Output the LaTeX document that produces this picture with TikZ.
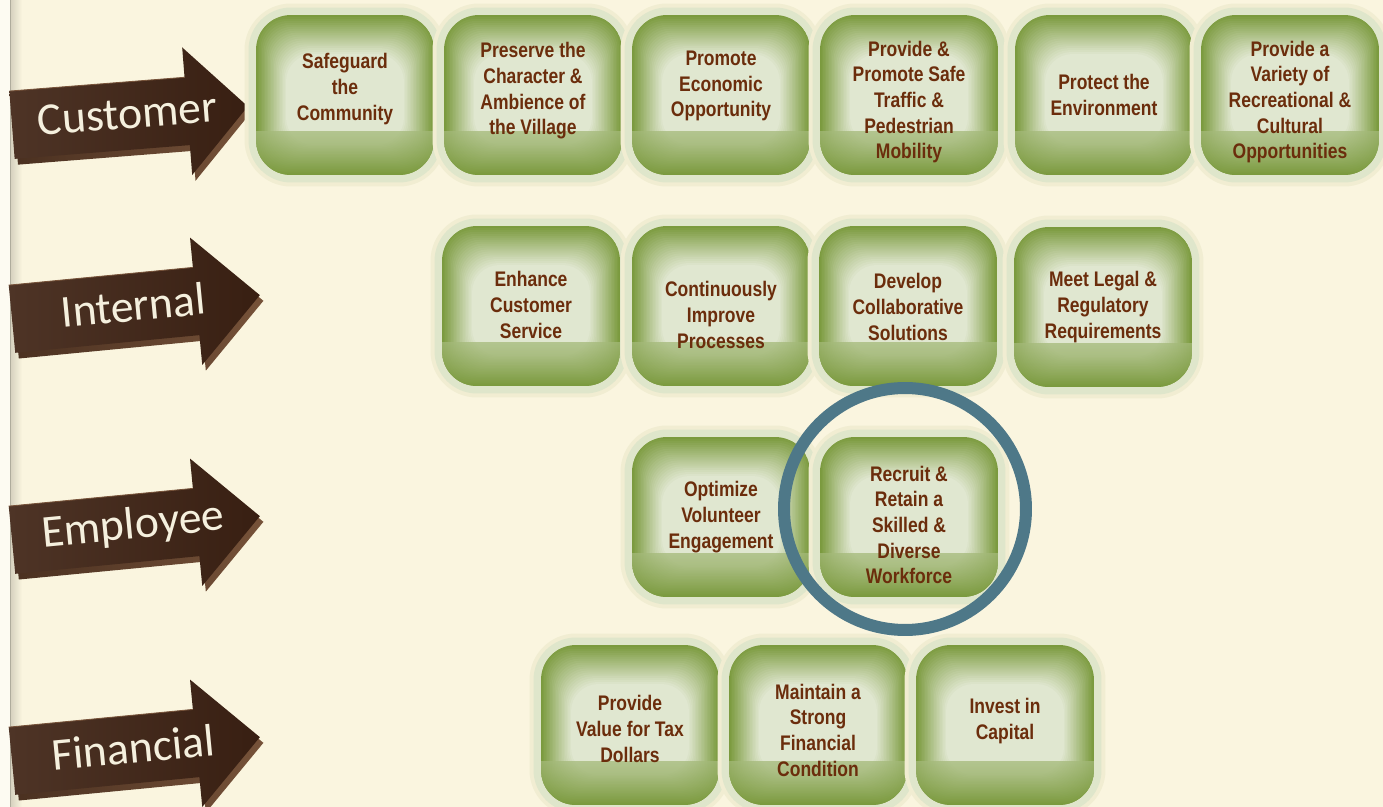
\documentclass[tikz,border=0pt]{standalone}
\usepackage{fontspec}
\usepackage{tikz}
\usetikzlibrary{calc, positioning}
\newfontfamily\goalfamily{Liberation Sans}[FakeStretch=0.83]
\newfontfamily\arrowfamily{Carlito}
\definecolor{pagebg}{HTML}{FAF5DF}
\definecolor{goalgreen}{HTML}{7B9A3E}
\definecolor{goalpale}{HTML}{E0E7D0}
\definecolor{goalhalo}{HTML}{DFE6CB}
\definecolor{goalglow}{HTML}{F1EDD2}
\definecolor{goaltext}{HTML}{6B2D0C}
\definecolor{ringblue}{HTML}{4E7888}
\definecolor{arrowleft}{HTML}{4E3426}
\definecolor{arrowright}{HTML}{381F12}
\definecolor{arrowside}{HTML}{765239}
\definecolor{arrowsidedark}{HTML}{4A3020}
\definecolor{arrowtext}{HTML}{F5F0DE}
\tikzset{
	x=0.02cm, y=-0.02cm, % un pixel de la imagen
	goal/.style={rounded corners=0.7cm, minimum width=3.56cm, minimum height=3.2cm,
		inner sep=0pt, fill=goalgreen,
		preaction={draw=goalglow, line width=0.46cm},
		preaction={draw=goalhalo, line width=0.3cm},
		path picture={
			% brillo: capas cada vez mas claras hacia el centro
			\foreach \i [evaluate=\i as \d using 1.5*\i, evaluate=\i as \m using int(5*\i)] in {1,...,20}
				\fill[goalpale!\m!goalgreen, rounded corners=0.55cm]
					($(path picture bounding box.north west)+(\d,1.3*\d)$) rectangle
					($(path picture bounding box.south east)+(-\d,-\d)$);
			% franja inferior
			\shade[sharp corners, top color=goalpale!40!goalgreen, bottom color=goalgreen, opacity=0.75]
				(path picture bounding box.south west) rectangle
				($(path picture bounding box.north east)!0.73!(path picture bounding box.south east)$);}},
	goallabel/.style={align=center, text=goaltext, inner sep=0pt,
		font=\goalfamily\bfseries\fontsize{12}{14.6}\selectfont},
	rowlabel/.style={text=arrowtext, inner sep=0pt,
		font=\arrowfamily\fontsize{26}{29}\selectfont},
	ring/.style={circle, draw=ringblue, line width=0.24cm, minimum size=4.84cm, inner sep=0pt}
}
% caja de objetivo: nombre, centro, desplazamiento del texto, texto
\newcommand{\goal}[4]{%
	\node[goal] (#1) at #2 {};
	\node[goallabel] (#1-text) at ($#2+(0,#3)$) {#4};}
% flecha de perspectiva: nombre, extremo izquierdo, angulo, escala, texto
\newcommand{\arrowoutline}{(0,-34) -- (185,-34) -- (185,-64) -- (249,0) -- (185,64) -- (185,34) -- (0,34) -- cycle}
\newcommand{\rowarrow}[5]{%
	\begin{scope}[shift={#2}, rotate=#3, xscale=#4]
		\shade[left color=arrowsidedark, right color=arrowside, shift={(3,6)}] \arrowoutline;
		\shade[left color=arrowleft, right color=arrowright] \arrowoutline;
		\draw[arrowside, line width=0.5pt] (0,-34) -- (185,-34);
		\node[rowlabel, rotate=#3] (#1) at (122,-2) {#5};
	\end{scope}}

\begin{document}
\begin{tikzpicture}
	\useasboundingbox (0,0) rectangle (1383,807);
	\fill[pagebg] (0,0) rectangle (1383,807);
	\fill[white!60!pagebg] (0,0) rectangle (10,807);
	\shade[left color=pagebg!85!black, right color=pagebg] (10,0) rectangle (22,807);
	\draw[pagebg!70!black, line width=0.6pt] (10.5,0) -- (10.5,807);

	% perspectivas
	\rowarrow{customer}{(12,125)}{4.5}{0.95}{Customer}
	\rowarrow{internal}{(12,319)}{5.5}{1}{Internal}
	\rowarrow{employee}{(12,540)}{5.5}{1}{Employee}
	\rowarrow{financial}{(12,761)}{5.5}{1}{Financial}

	% objetivos del cliente
	\goal{c1}{(345,95)}{-6}{Safeguard\\the\\Community}
	\goal{c2}{(533,95)}{-4}{Preserve the\\Character \&\\Ambience of\\the Village}
	\goal{c3}{(721,95)}{-9}{Promote\\Economic\\Opportunity}
	\goal{c4}{(909,95)}{7}{Provide \&\\Promote Safe\\Traffic \&\\Pedestrian\\Mobility}
	\goal{c5}{(1104,95)}{0}{Protect the\\Environment}
	\goal{c6}{(1290,95)}{7}{Provide a\\Variety of\\Recreational \&\\Cultural\\Opportunities}

	% objetivos internos
	\goal{i1}{(531,306)}{-1}{Enhance\\Customer\\Service}
	\goal{i2}{(721,306)}{9}{Continuously\\Improve\\Processes}
	\goal{i3}{(908,306)}{1}{Develop\\Collaborative\\Solutions}
	\goal{i4}{(1103,307)}{0}{Meet Legal \&\\Regulatory\\Requirements}

	% objetivos de empleados
	\goal{e1}{(721,517)}{0}{Optimize\\Volunteer\\Engagement}
	\goal{e2}{(909,517)}{8}{Recruit \&\\Retain a\\Skilled \&\\Diverse\\Workforce}

	% objetivos financieros
	\goal{f1}{(630,725)}{4}{Provide\\Value for Tax\\Dollars}
	\goal{f2}{(818,725)}{5}{Maintain a\\Strong\\Financial\\Condition}
	\goal{f3}{(1005,725)}{-4}{Invest in\\Capital}

	\node[ring] (focus) at ($(e2)+(-4,-8)$) {};
\end{tikzpicture}
\end{document}
